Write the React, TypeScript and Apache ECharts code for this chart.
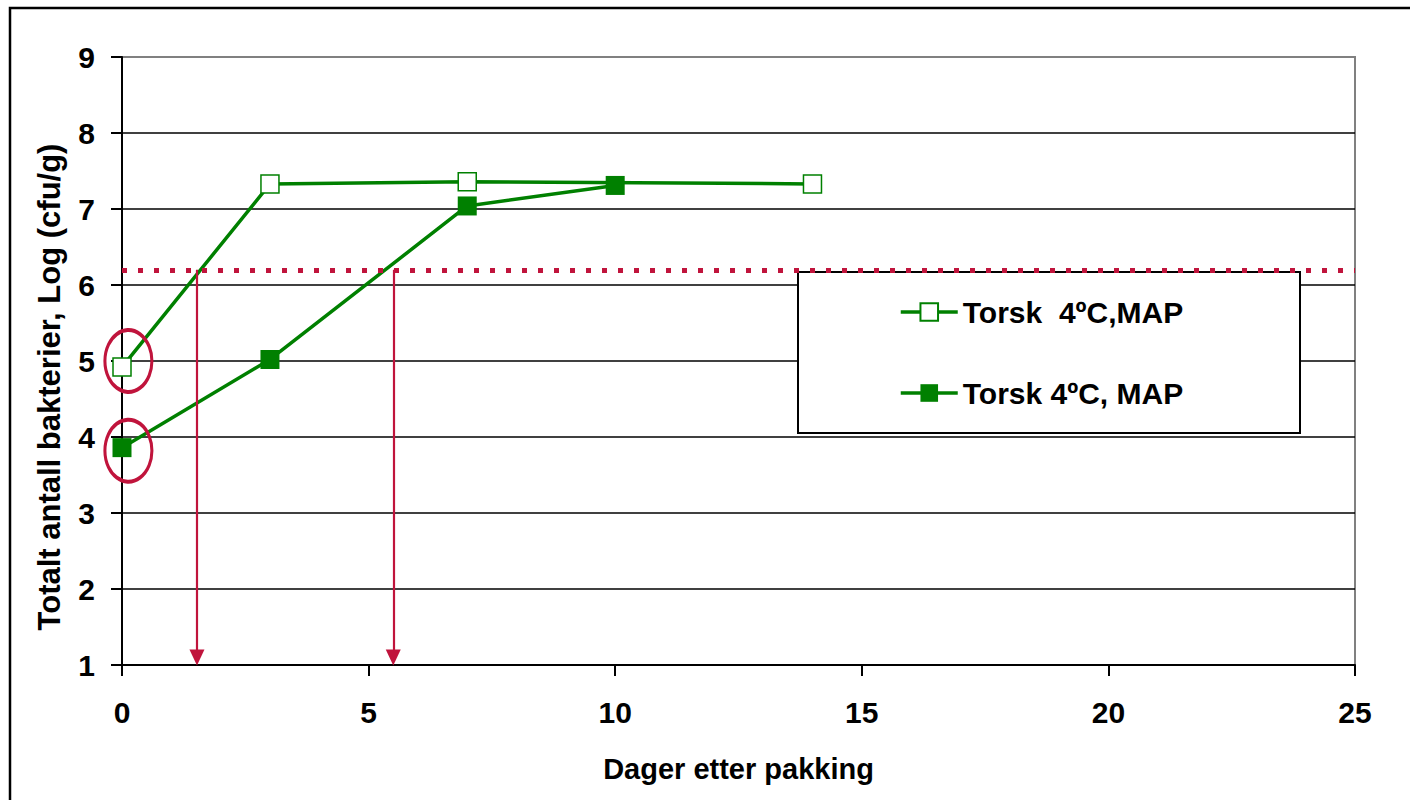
import React, { useEffect, useRef } from "react";
import * as echarts from "echarts";

const seriesNames = ["Torsk  4ºC,MAP", "Torsk 4ºC, MAP"];
const openDays = [0, 3, 7, 14];
const openValues = [4.92, 7.33, 7.36, 7.33];
const filledDays = [0, 3, 7, 10];
const filledValues = [3.86, 5.02, 7.04, 7.31];
const limitValue = 6.2;
const arrowDays = [1.52, 5.5];
const arrowBottom = 1.1;
const circleCenters = [
  [0.13, 5.0],
  [0.13, 3.82],
];
const xMin = 0;
const xMax = 25;
const xStep = 5;
const yMin = 1;
const yMax = 9;
const yStep = 1;

const FONT = 'Arial, "Liberation Sans", sans-serif';
const GREEN = "#008000";
const RED = "#C0143C";

export default function App() {
  const ref = useRef<HTMLDivElement>(null);
  useEffect(() => {
    if (!ref.current) return;
    const chart = echarts.init(ref.current, undefined, { renderer: "svg" });
    const splitColors = [];
    for (let v = yMin; v <= yMax; v += yStep) splitColors.push(v === yMax ? "#808080" : "#000000");
    chart.setOption({
      animation: false,
      backgroundColor: "#ffffff",
      textStyle: { fontFamily: FONT },
      grid: {
        left: 122,
        right: 55,
        top: 57,
        bottom: 135,
        show: true,
        borderColor: "#808080",
        borderWidth: 2,
        backgroundColor: "transparent",
      },
      xAxis: {
        type: "value",
        min: xMin,
        max: xMax,
        interval: xStep,
        name: "Dager etter pakking",
        nameLocation: "middle",
        nameGap: 89,
        nameTextStyle: { fontFamily: FONT, fontWeight: "bold", fontSize: 29, color: "#000" },
        axisLine: { show: true, lineStyle: { color: "#000", width: 2 } },
        axisTick: { show: true, inside: false, length: 11, lineStyle: { color: "#000", width: 2 } },
        axisLabel: { fontFamily: FONT, fontWeight: "bold", fontSize: 30, color: "#000", margin: 32 },
        splitLine: { show: false },
      },
      yAxis: {
        type: "value",
        min: yMin,
        max: yMax,
        interval: yStep,
        axisLine: { show: true, lineStyle: { color: "#000", width: 2 } },
        axisTick: { show: true, inside: false, length: 11, lineStyle: { color: "#000", width: 2 } },
        axisLabel: { fontFamily: FONT, fontWeight: "bold", fontSize: 30, color: "#000", margin: 27 },
        splitLine: { show: true, lineStyle: { color: splitColors, width: 1.5 } },
      },
      legend: {
        show: true,
        orient: "vertical",
        left: 899,
        top: 297,
        padding: 0,
        itemGap: 51,
        itemWidth: 57,
        itemHeight: 22,
        selectedMode: false,
        lineStyle: { width: 3.5 },
        textStyle: { fontFamily: FONT, fontWeight: "bold", fontSize: 30, color: "#000", lineHeight: 30 },
        data: seriesNames,
      },
      graphic: [
        {
          type: "rect",
          z: 1,
          shape: { x: 10, y: 8, width: 1420, height: 820 },
          style: { fill: "none", stroke: "#000", lineWidth: 2.5 },
          silent: true,
        },
        {
          type: "rect",
          z: 1,
          shape: { x: 798, y: 272, width: 502, height: 161 },
          style: { fill: "#fff", stroke: "#000", lineWidth: 2 },
          silent: true,
        },
        {
          type: "text",
          x: 49,
          y: 387,
          rotation: Math.PI / 2,
          style: {
            text: "Totalt antall bakterier, Log (cfu/g)",
            fontFamily: FONT,
            fontWeight: "bold",
            fontSize: 31,
            fill: "#000",
            align: "center",
            verticalAlign: "middle",
          },
          silent: true,
        },
      ],
      series: [
        {
          name: seriesNames[0],
          type: "line",
          data: openDays.map((d, i) => [d, openValues[i]]),
          symbol: "rect",
          symbolSize: 18,
          lineStyle: { color: GREEN, width: 3.5 },
          itemStyle: { color: "#ffffff", borderColor: GREEN, borderWidth: 1.5 },
          z: 3,
          markLine: {
            silent: true,
            symbol: "none",
            label: { show: false },
            lineStyle: { color: RED, width: 5, type: [5, 11] },
            data: [{ yAxis: limitValue }],
          },
        },
        {
          name: seriesNames[1],
          type: "line",
          data: filledDays.map((d, i) => [d, filledValues[i]]),
          symbol: "rect",
          symbolSize: 19,
          lineStyle: { color: GREEN, width: 3.5 },
          itemStyle: { color: GREEN, borderColor: GREEN, borderWidth: 0 },
          z: 4,
          markLine: {
            silent: true,
            symbol: ["none", "triangle"],
            symbolSize: [15, 16],
            label: { show: false },
            lineStyle: { color: RED, width: 2.2, type: "solid" },
            data: arrowDays.map((d) => [{ coord: [d, limitValue] }, { coord: [d, arrowBottom] }]),
          },
          markPoint: {
            silent: true,
            symbol: "circle",
            symbolSize: [47, 62],
            label: { show: false },
            itemStyle: { color: "rgba(0,0,0,0)", borderColor: RED, borderWidth: 3.5 },
            data: circleCenters.map((c) => ({ coord: c })),
          },
        },
      ],
    });
    return () => chart.dispose();
  }, []);
  return (
    <div
      ref={ref}
      style={{ position: "fixed", left: 0, top: 0, width: 1410, height: 800 }}
    />
  );
}
